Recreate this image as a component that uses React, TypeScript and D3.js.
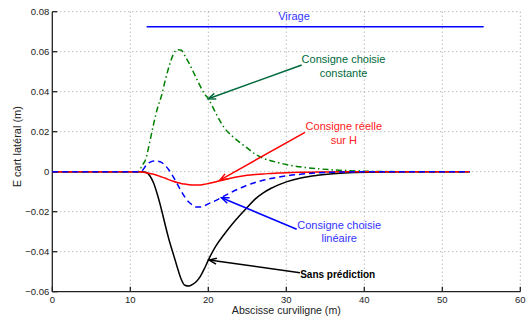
import React from "react";
import * as d3 from "d3";

const xs = [0, 11, 11.5, 12, 12.5, 13, 13.5, 14, 14.5, 15, 15.5, 16, 16.5, 17, 17.5, 18, 18.5, 19, 19.5, 20, 21, 22, 23, 24, 25, 26, 27, 28, 29, 30, 32, 34, 36, 38, 42, 46, 53.5];

const sansPrediction = [0, 0, 0, -0.0003, -0.002, -0.0058, -0.0118, -0.019, -0.027, -0.0345, -0.041, -0.0475, -0.0535, -0.0568, -0.0572, -0.0563, -0.0548, -0.0522, -0.0485, -0.0442, -0.037, -0.0315, -0.0265, -0.022, -0.0178, -0.0137, -0.0107, -0.0084, -0.0066, -0.0051, -0.003, -0.0018, -0.001, -0.0005, -0.0001, 0, 0];

const consigneReelle = [0, 0, -0.0002, -0.0005, -0.0009, -0.0013, -0.0019, -0.0026, -0.0033, -0.0041, -0.0048, -0.0054, -0.0059, -0.0062, -0.0065, -0.0067, -0.0067, -0.0066, -0.0063, -0.0059, -0.005, -0.004, -0.0031, -0.0024, -0.0018, -0.0014, -0.0011, -0.0009, -0.0007, -0.0005, -0.0003, -0.0002, -0.0001, 0, 0, 0, 0];

const consigneLineaire = [0, 0, 0.0005, 0.003, 0.0047, 0.0054, 0.0053, 0.0047, 0.003, 0.0006, -0.0025, -0.006, -0.0095, -0.0127, -0.0152, -0.0167, -0.0177, -0.0177, -0.0171, -0.0161, -0.0143, -0.0122, -0.0102, -0.0084, -0.0067, -0.0054, -0.0043, -0.0034, -0.0027, -0.0021, -0.0012, -0.0006, -0.0003, -0.0001, 0, 0, 0];

const consigneConstante = [0, 0, 0.003, 0.0065, 0.015, 0.024, 0.032, 0.038, 0.046, 0.053, 0.0585, 0.061, 0.0608, 0.058, 0.0545, 0.0505, 0.0465, 0.0425, 0.039, 0.0365, 0.029, 0.0222, 0.018, 0.0148, 0.0118, 0.0088, 0.0068, 0.0055, 0.0045, 0.0036, 0.0023, 0.0015, 0.0009, 0.0005, 0.0001, 0, 0];

const virageX = [12.1, 55.3];
const virageY = 0.0725;

const xTicks = [0, 10, 20, 30, 40, 50, 60];
const yTicks = [-0.06, -0.04, -0.02, 0, 0.02, 0.04, 0.06, 0.08];

const W = 526, H = 320;
const L = 52.3, R = 520.3, T = 11.7, B = 291.7;

const fmtY = (v: number) => (v === 0 ? "0" : (v < 0 ? "\u2212" : "") + Math.abs(v).toFixed(2));

function Arrow({ x1, y1, x2, y2, color }: { x1: number; y1: number; x2: number; y2: number; color: string }) {
  const ang = Math.atan2(y2 - y1, x2 - x1);
  const len = 8, spread = 0.38;
  const p1 = [x2 - len * Math.cos(ang - spread), y2 - len * Math.sin(ang - spread)];
  const p2 = [x2 - len * Math.cos(ang + spread), y2 - len * Math.sin(ang + spread)];
  return (
    <g stroke={color} strokeWidth={1.5} fill="none">
      <line x1={x1} y1={y1} x2={x2} y2={y2} />
      <polyline points={`${p1[0]},${p1[1]} ${x2},${y2} ${p2[0]},${p2[1]}`} />
    </g>
  );
}

export default function App() {
  const x = d3.scaleLinear().domain([0, 60]).range([L, R]);
  const y = d3.scaleLinear().domain([-0.06, 0.08]).range([B, T]);
  const mk = (vals: number[]) =>
    d3.line<number>().x((_, i) => x(xs[i])).y((v) => y(v)).curve(d3.curveMonotoneX)(vals) || "";

  const font = "Liberation Sans, Arial, Helvetica, sans-serif";
  const green = "#006a3c";
  return (
    <svg width={W} height={H} style={{ position: "absolute", left: 0, top: 0, background: "#fff" }} fontFamily={font}>
      <rect x={0} y={0} width={W} height={H} fill="#fff" />
      {/* grid */}
      <g stroke="#9a9a9a" strokeWidth={1} strokeDasharray="1,3">
        {xTicks.filter((t) => t > 0).map((t) => (
          <line key={"gx" + t} x1={x(t)} x2={x(t)} y1={T} y2={B} />
        ))}
        {yTicks.filter((t) => t > -0.06).map((t) => (
          <line key={"gy" + t} x1={L} x2={R} y1={y(t)} y2={y(t)} />
        ))}
      </g>
      {/* axes */}
      <g stroke="#222" strokeWidth={1.3}>
        <line x1={L} x2={R} y1={B} y2={B} />
        <line x1={L} x2={L} y1={T} y2={B} />
        {xTicks.map((t) => (
          <line key={"tx" + t} x1={x(t)} x2={x(t)} y1={B} y2={B - 5} />
        ))}
        {yTicks.map((t) => (
          <line key={"ty" + t} x1={L} x2={L + 5} y1={y(t)} y2={y(t)} />
        ))}
      </g>
      <g fontSize={9.5} fill="#222">
        {xTicks.map((t) => (
          <text key={"lx" + t} x={x(t)} y={B + 11} textAnchor="middle">{t}</text>
        ))}
        {yTicks.map((t) => (
          <text key={"ly" + t} x={L - 3} y={y(t) + 3.5} textAnchor="end">{fmtY(t)}</text>
        ))}
      </g>
      <text x={(L + R) / 2} y={313.5} textAnchor="middle" fontSize={10.6} fill="#222">Abscisse curviligne (m)</text>
      <text transform={`translate(21,${(T + B) / 2 - 5}) rotate(-90)`} textAnchor="middle" fontSize={11} fill="#222">E cart latéral (m)</text>

      {/* virage */}
      <line x1={x(virageX[0])} x2={x(virageX[1])} y1={y(virageY)} y2={y(virageY)} stroke="#0000ff" strokeWidth={1.6} />
      <text x={294} y={19.5} textAnchor="middle" fontSize={11} fill="#3333ff">Virage</text>

      {/* curves */}
      <path d={mk(consigneConstante)} fill="none" stroke="#008000" strokeWidth={1.5} strokeDasharray="6,3,1.5,3" />
      <path d={mk(sansPrediction)} fill="none" stroke="#000" strokeWidth={1.5} />
      <path d={mk(consigneReelle)} fill="none" stroke="#ff0000" strokeWidth={1.5} />
      <path d={mk(consigneLineaire)} fill="none" stroke="#0000ff" strokeWidth={1.5} strokeDasharray="6,4" />

      {/* annotations */}
      <Arrow x1={301.7} y1={65} x2={x(20)} y2={y(0.0365)} color={green} />
      <text fontSize={11} fill={green} textAnchor="middle">
        <tspan x={343.5} y={63}>Consigne choisie</tspan>
        <tspan x={343.5} y={76.5}>constante</tspan>
      </text>

      <Arrow x1={305} y1={132.3} x2={x(21.5)} y2={y(-0.0042)} color="#ff0000" />
      <text fontSize={11} fill="#ff2020" textAnchor="middle">
        <tspan x={343.8} y={130}>Consigne réelle</tspan>
        <tspan x={343.8} y={143.5}>sur H</tspan>
      </text>

      <Arrow x1={296.7} y1={229.3} x2={x(21.7)} y2={y(-0.013)} color="#0000ff" />
      <text fontSize={11} fill="#3333ff" textAnchor="middle">
        <tspan x={339.2} y={228.5}>Consigne choisie</tspan>
        <tspan x={339.2} y={241.5}>linéaire</tspan>
      </text>

      <Arrow x1={300} y1={272.7} x2={x(20.1)} y2={y(-0.0442)} color="#000" />
      <text x={337.7} y={277.5} fontSize={10} fontWeight="bold" fill="#000" textAnchor="middle">Sans prédiction</text>
    </svg>
  );
}
